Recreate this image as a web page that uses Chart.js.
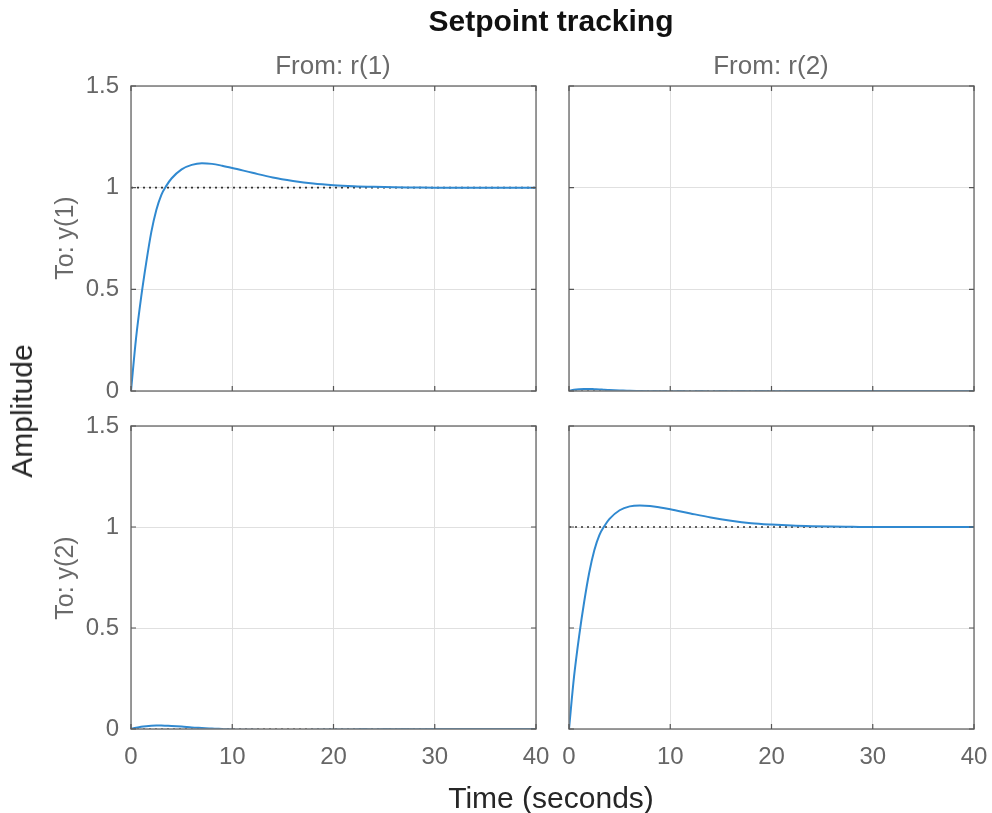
<!DOCTYPE html>
<html><head><meta charset="utf-8">
<script src="https://cdn.jsdelivr.net/npm/chart.js@4/dist/chart.umd.min.js"></script>
<style>
html,body{margin:0;padding:0;background:#fff;}
#wrap{position:relative;width:992px;height:813px;overflow:hidden;font-family:"Liberation Sans",Arial,sans-serif;background:#fff;}
canvas{position:absolute;left:0;top:0;}
.t{position:absolute;white-space:nowrap;transform:translate(-50%,-50%);line-height:1;}
.r{transform:translate(-50%,-50%) rotate(-90deg);}
</style></head><body>
<div id="wrap">
<canvas id="c11" width="992" height="813"></canvas>
<canvas id="c12" width="992" height="813"></canvas>
<canvas id="c21" width="992" height="813"></canvas>
<canvas id="c22" width="992" height="813"></canvas>
<div class="t" style="left:551px;top:21px;font-size:30px;font-weight:bold;color:#111;">Setpoint tracking</div>
<div class="t" style="left:333px;top:65px;font-size:26px;color:#6a6a6a;">From: r(1)</div>
<div class="t" style="left:771px;top:65px;font-size:26px;color:#6a6a6a;">From: r(2)</div>
<div class="t r" style="left:64px;top:238px;font-size:25px;color:#6a6a6a;">To: y(1)</div>
<div class="t r" style="left:64px;top:578px;font-size:25px;color:#6a6a6a;">To: y(2)</div>
<div class="t r" style="left:22px;top:411px;font-size:30px;color:#262626;">Amplitude</div>
<div class="t" style="left:551px;top:798px;font-size:30px;color:#262626;">Time (seconds)</div>
</div>
<script>
// ---- data ----
const time = [0,0.5,1,1.5,2,2.5,3,3.5,4,5,6,7,8,9,10,12,14,16,18,20,22,24,26,28,30,32,35,40];
const y1FromR1 = [0,0.26,0.46,0.63,0.78,0.89,0.965,1.01,1.045,1.09,1.112,1.12,1.117,1.108,1.097,1.073,1.05,1.033,1.02,1.012,1.007,1.004,1.002,1.001,1.0,1.0,1.0,1.0];
const y1FromR2 = [0,0.006,0.009,0.010,0.010,0.009,0.008,0.006,0.005,0.003,0.001,0,-0.001,-0.001,-0.002,-0.002,-0.002,-0.001,-0.001,-0.001,0,0,0,0,0,0,0,0];
const y2FromR1 = [0,0.006,0.011,0.014,0.016,0.017,0.017,0.016,0.015,0.012,0.008,0.005,0.002,0,-0.002,-0.004,-0.005,-0.005,-0.004,-0.003,-0.002,-0.002,-0.001,-0.001,0,0,0,0];
const y2FromR2 = [0,0.26,0.46,0.63,0.775,0.885,0.96,1.005,1.04,1.083,1.102,1.106,1.104,1.097,1.088,1.067,1.047,1.031,1.019,1.012,1.007,1.004,1.002,1.001,1.0,1.0,1.0,1.0];
const steadyState = {c11:1, c12:0, c21:0, c22:1};
const xTicks = [0,10,20,30,40];
const yTicks = [0,0.5,1,1.5];

const panels = [
  {id:'c11', series:y1FromR1, rect:{l:131,r:536,t:86,b:391}, showX:false, showY:true},
  {id:'c12', series:y1FromR2, rect:{l:569,r:974,t:86,b:391}, showX:false, showY:false},
  {id:'c21', series:y2FromR1, rect:{l:131,r:536,t:426,b:729}, showX:true, showY:true},
  {id:'c22', series:y2FromR2, rect:{l:569,r:974,t:426,b:729}, showX:true, showY:false}
];

const W = 992, H = 813;
const FONT = '"Liberation Sans", Arial, sans-serif';

const boxPlugin = {
  id:'box',
  afterDraw(chart){
    const {ctx, chartArea:a, scales} = chart;
    ctx.save();
    ctx.strokeStyle = '#7a7a7a';
    ctx.lineWidth = 1.5;
    ctx.strokeRect(a.left, a.top, a.right-a.left, a.bottom-a.top);
    ctx.lineWidth = 1.2;
    ctx.strokeStyle = '#555';
    const tl = 5;
    xTicks.forEach(v=>{
      const px = scales.x.getPixelForValue(v);
      ctx.beginPath(); ctx.moveTo(px,a.bottom); ctx.lineTo(px,a.bottom-tl);
      ctx.moveTo(px,a.top); ctx.lineTo(px,a.top+tl); ctx.stroke();
    });
    yTicks.forEach(v=>{
      const py = scales.y.getPixelForValue(v);
      ctx.beginPath(); ctx.moveTo(a.left,py); ctx.lineTo(a.left+tl,py);
      ctx.moveTo(a.right,py); ctx.lineTo(a.right-tl,py); ctx.stroke();
    });
    ctx.restore();
  }
};

panels.forEach(p=>{
  const ss = steadyState[p.id];
  new Chart(document.getElementById(p.id), {
    type:'line',
    data:{
      datasets:[
        {data: time.map((t,i)=>({x:t,y:p.series[i]})), borderColor:'#3089d0', borderWidth:2, pointRadius:0, cubicInterpolationMode:'monotone', fill:false, order:1},
        {data: [{x:xTicks[0],y:ss},{x:xTicks[xTicks.length-1],y:ss}], borderColor:'#333', borderWidth:1.6, borderDash:[2,4], pointRadius:0, fill:false, order:2}
      ]
    },
    options:{
      responsive:false, animation:false, events:[],
      layout:{padding:{left:0, top:p.rect.t, right:W-p.rect.r, bottom:0}},
      plugins:{legend:{display:false}, tooltip:{enabled:false}, title:{display:false}},
      scales:{
        x:{type:'linear', min:0, max:40, afterBuildTicks:s=>{s.ticks = xTicks.map(v=>({value:v}));},
           afterFit:s=>{s.height = H - p.rect.b; s.paddingLeft = 0; s.paddingRight = 0;},
           grid:{color:'#e0e0e0', lineWidth:1, drawTicks:false},
           border:{display:false},
           ticks:{display:p.showX, padding:14, color:'#666', font:{family:FONT, size:24}, callback:v=>String(v), maxRotation:0, autoSkip:false}},
        y:{type:'linear', min:0, max:1.5, afterBuildTicks:s=>{s.ticks = yTicks.map(v=>({value:v}));},
           afterFit:s=>{s.width = p.rect.l; s.paddingTop = 0; s.paddingBottom = 0;},
           grid:{color:'#e0e0e0', lineWidth:1, drawTicks:false},
           border:{display:false},
           ticks:{display:p.showY, padding:12, color:'#666', font:{family:FONT, size:24}, callback:v=>String(v), autoSkip:false}}
      }
    },
    plugins:[boxPlugin]
  });
});
</script>
</body></html>
